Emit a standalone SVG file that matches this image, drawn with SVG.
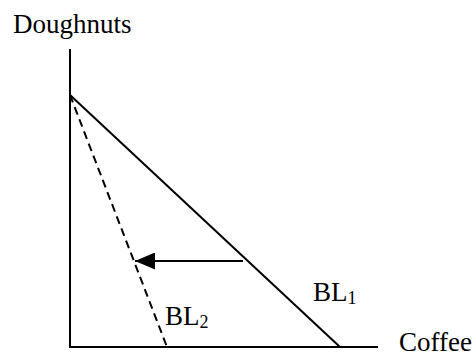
<svg xmlns="http://www.w3.org/2000/svg" width="476" height="352" viewBox="0 0 476 352">
<style>
text{font-family:"Liberation Serif","Times New Roman","DejaVu Serif",serif;font-size:27px;fill:#000}
.ln{stroke:#000;stroke-width:2;fill:none}
.sub{font-size:18px}
</style>
<defs>
<marker id="ah" markerWidth="20" markerHeight="17" refX="20" refY="8.5" orient="auto" markerUnits="userSpaceOnUse">
<path d="M0,0 L20,8.5 L0,17 Z" fill="#000"/>
</marker>
</defs>
<rect width="476" height="352" fill="#fff"/>
<g id="axes">
<line class="ln" x1="70" y1="49" x2="70" y2="347"/>
<line class="ln" x1="69" y1="347" x2="378" y2="347"/>
<text x="13" y="33" font-family="Liberation Serif, serif">Doughnuts</text>
<text x="399" y="351" font-family="Liberation Serif, serif">Coffee</text>
</g>
<g id="bl1">
<line class="ln" x1="70" y1="95" x2="340" y2="347"/>
<text x="313" y="301" font-family="Liberation Serif, serif">BL<tspan class="sub" dy="3">1</tspan></text>
</g>
<g id="bl2">
<line class="ln" x1="70" y1="95" x2="167" y2="347" stroke-dasharray="8,5"/>
<text x="165" y="325" font-family="Liberation Serif, serif">BL<tspan class="sub" dy="3">2</tspan></text>
</g>
<g id="connectors">
<line class="ln" x1="243" y1="261" x2="135" y2="261" marker-end="url(#ah)"/>
</g>
</svg>
